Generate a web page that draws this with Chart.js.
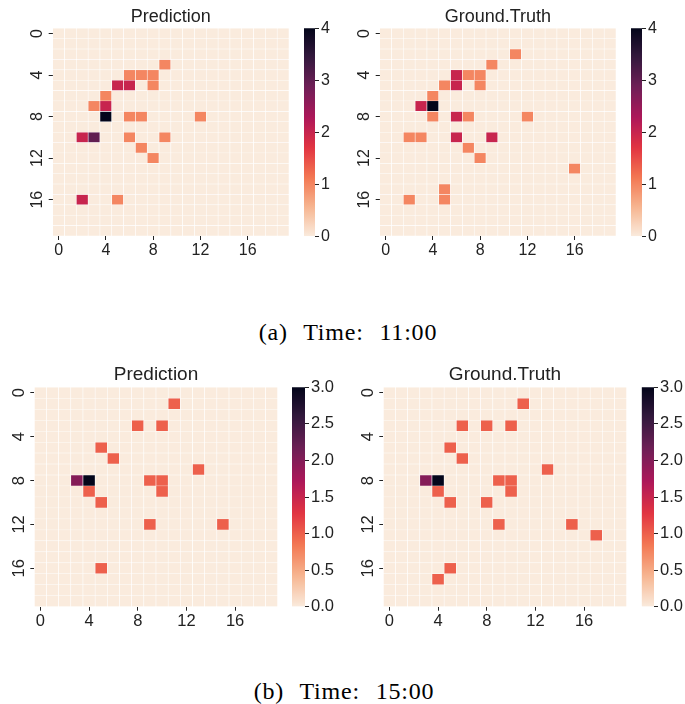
<!DOCTYPE html>
<html>
<head>
<meta charset="utf-8">
<script src="https://cdn.jsdelivr.net/npm/chart.js@4.4.1/dist/chart.umd.min.js"></script>
<style>
  body { margin: 0; background: #fff; }
  #fig { position: relative; width: 685px; height: 704px; overflow: hidden; }
  #fig canvas { position: absolute; }
  .cap { position: absolute; width: 400px; text-align: center; font-family: "Liberation Serif", serif;
         font-size: 24px; line-height: 24px; color: #000; word-spacing: 9px; letter-spacing: 0.8px; }
</style>
</head>
<body>
<div id="fig">
  <canvas id="p1" width="300" height="260" style="left:0px;top:0px"></canvas>
  <canvas id="c1" width="32" height="260" style="left:300px;top:0px"></canvas>
  <canvas id="p2" width="300" height="260" style="left:327px;top:0px"></canvas>
  <canvas id="c2" width="32" height="260" style="left:627px;top:0px"></canvas>
  <div class="cap" style="left:148px;top:320px">(a) Time: 11:00</div>
  <canvas id="p3" width="290" height="272" style="left:0px;top:359px"></canvas>
  <canvas id="c3" width="50" height="272" style="left:288px;top:359px"></canvas>
  <canvas id="p4" width="290" height="272" style="left:349px;top:359px"></canvas>
  <canvas id="c4" width="47" height="272" style="left:638px;top:359px"></canvas>
  <div class="cap" style="left:144px;top:679px">(b) Time: 15:00</div>
</div>
<script>
// 20x20 grid, tick labels every 4 cells
const cols = Array.from({ length: 20 }, (_, i) => String(i));
const rows = Array.from({ length: 20 }, (_, i) => i);
const tickCells = [0, 4, 8, 12, 16];

// non-zero cells as [row, col, value]
const pred1100 = [[3,9,1],[4,6,1],[4,7,1],[4,8,1],[5,5,2],[5,6,2],[5,8,1],[6,4,1],[7,3,1],[7,4,2],
  [8,4,4],[8,6,1],[8,7,1],[8,12,1],[10,2,2],[10,3,3],[10,6,1],[10,9,1],[11,7,1],[12,8,1],[16,2,2],[16,5,1]];
const truth1100 = [[2,11,1],[3,9,1],[4,6,2],[4,7,1],[4,8,1],[5,5,1],[5,6,2],[5,8,1],[6,4,1],[7,3,2],[7,4,4],
  [8,4,1],[8,6,2],[8,7,1],[8,12,1],[10,2,1],[10,3,1],[10,6,2],[10,9,2],[11,7,1],[12,8,1],[13,16,1],[15,5,1],[16,2,1],[16,5,1]];
const pred1500 = [[1,11,1],[3,8,1],[3,10,1],[5,5,1],[6,6,1],[7,13,1],[8,3,2],[8,4,3],[8,9,1],[8,10,1],
  [9,4,1],[9,10,1],[10,5,1],[12,9,1],[12,15,1],[16,5,1]];
const truth1500 = [[1,11,1],[3,6,1],[3,8,1],[3,10,1],[5,5,1],[6,6,1],[7,13,1],[8,3,2],[8,4,3],[8,9,1],[8,10,1],
  [9,4,1],[9,10,1],[10,5,1],[10,8,1],[12,9,1],[12,15,1],[13,17,1],[16,5,1],[17,4,1]];

// colour bar ranges
const vmax1100 = 4, ticks1100 = [0, 1, 2, 3, 4];
const vmax1500 = 3, ticks1500 = [0, 0.5, 1, 1.5, 2, 2.5, 3];

// seaborn "rocket" stops (dark -> light), used reversed
const rocket = ['#03051a', '#35193e', '#701f57', '#ad1759', '#e13342', '#f37651', '#f6b48f', '#faebdd'];
function hex(c) { return [1, 3, 5].map(i => parseInt(c.slice(i, i + 2), 16)); }
function rocketR(t) {
  const p = (1 - Math.max(0, Math.min(1, t))) * (rocket.length - 1);
  const i = Math.min(Math.floor(p), rocket.length - 2), f = p - i;
  const a = hex(rocket[i]), b = hex(rocket[i + 1]);
  return 'rgb(' + a.map((v, k) => Math.round(v + (b[k] - v) * f)).join(',') + ')';
}

const ink = '#222222';

function heatmap(id, title, cells, vmax, geo) {
  const grid = rows.map(() => cols.map(() => 0));
  cells.forEach(([r, c, v]) => { grid[r][c] = v; });
  const datasets = rows.map(r => ({
    data: cols.map(() => [r, r + 1]),
    backgroundColor: grid[r].map(v => rocketR(v / vmax)),
    borderColor: '#ffffff',
    borderWidth: 0.6,
    barPercentage: 1,
    categoryPercentage: 1,
    grouped: false
  }));
  new Chart(document.getElementById(id), {
    type: 'bar',
    data: { labels: cols, datasets },
    options: {
      responsive: false,
      animation: false,
      layout: { padding: { left: 0, right: geo.right, top: 0, bottom: 0 } },
      plugins: {
        legend: { display: false },
        tooltip: { enabled: false },
        title: {
          display: true, text: title, color: ink, fullSize: false,
          font: { family: 'Liberation Sans', size: geo.title, weight: 'normal' },
          padding: { top: geo.titleTop, bottom: geo.titleBottom }
        }
      },
      scales: {
        x: {
          type: 'category',
          offset: true,
          border: { display: false },
          grid: {
            offset: false, drawOnChartArea: false, tickLength: 4, lineWidth: 1,
            color: ctx => tickCells.includes(ctx.index) ? ink : 'rgba(0,0,0,0)'
          },
          ticks: {
            autoSkip: false, maxRotation: 0, padding: 1, color: ink,
            font: { family: 'Liberation Sans', size: geo.font },
            callback: (v, i) => tickCells.includes(i) ? cols[i] : ''
          },
          afterFit: s => { s.height = geo.axisH; }
        },
        y: {
          type: 'linear', min: 0, max: 20, reverse: true,
          border: { display: false },
          grid: { drawOnChartArea: false, tickLength: 4, color: ink },
          afterBuildTicks: s => { s.ticks = tickCells.map(v => ({ value: v + 0.5 })); },
          ticks: {
            autoSkip: false, minRotation: 90, maxRotation: 90, crossAlign: 'center', padding: 2,
            color: ink, font: { family: 'Liberation Sans', size: geo.font },
            callback: v => String(v - 0.5)
          },
          afterFit: s => { s.width = geo.axisW; }
        }
      }
    }
  });
}

function colorbar(id, vmax, ticks, geo) {
  new Chart(document.getElementById(id), {
    type: 'bar',
    data: {
      labels: [''],
      datasets: [{
        data: [[0, vmax]],
        borderWidth: 0,
        barPercentage: 1,
        categoryPercentage: 1,
        backgroundColor: ctx => {
          const a = ctx.chart.chartArea;
          if (!a) return null;
          const g = ctx.chart.ctx.createLinearGradient(0, a.bottom, 0, a.top);
          for (let k = 0; k <= 40; k++) g.addColorStop(k / 40, rocketR(k / 40));
          return g;
        }
      }]
    },
    options: {
      responsive: false,
      animation: false,
      layout: { padding: { left: geo.left, right: 0, top: geo.top, bottom: geo.bottom } },
      plugins: { legend: { display: false }, tooltip: { enabled: false } },
      scales: {
        x: { display: false },
        y: {
          position: 'right', min: 0, max: vmax,
          border: { display: false },
          grid: { drawOnChartArea: false, tickLength: 4, color: ink },
          afterBuildTicks: s => { s.ticks = ticks.map(v => ({ value: v })); },
          ticks: {
            padding: 2, color: ink,
            font: { family: 'Liberation Sans', size: geo.font },
            callback: v => geo.dec ? v.toFixed(1) : String(v)
          },
          afterFit: s => { s.width = geo.axisW; }
        }
      }
    }
  });
}

const topGeo = { right: 11, axisW: 52.7, axisH: 24, title: 18, titleTop: 6.7, titleBottom: 0, font: 16 };
const botGeo = { right: 12.3, axisW: 34.3, axisH: 24.3, title: 19, titleTop: 4.6, titleBottom: 0.9, font: 16.5 };

heatmap('p1', 'Prediction', pred1100, vmax1100, topGeo);
heatmap('p2', 'Ground.Truth', truth1100, vmax1100, topGeo);
heatmap('p3', 'Prediction', pred1500, vmax1500, botGeo);
heatmap('p4', 'Ground.Truth', truth1500, vmax1500, botGeo);

colorbar('c1', vmax1100, ticks1100, { left: 4, top: 28.3, bottom: 23.7, axisW: 17, font: 16, dec: false });
colorbar('c2', vmax1100, ticks1100, { left: 4, top: 28.3, bottom: 23.7, axisW: 17, font: 16, dec: false });
colorbar('c3', vmax1500, ticks1500, { left: 4, top: 28.3, bottom: 24.3, axisW: 33, font: 16.5, dec: true });
colorbar('c4', vmax1500, ticks1500, { left: 3.7, top: 28.3, bottom: 24.3, axisW: 31, font: 16.5, dec: true });
</script>
</body>
</html>
